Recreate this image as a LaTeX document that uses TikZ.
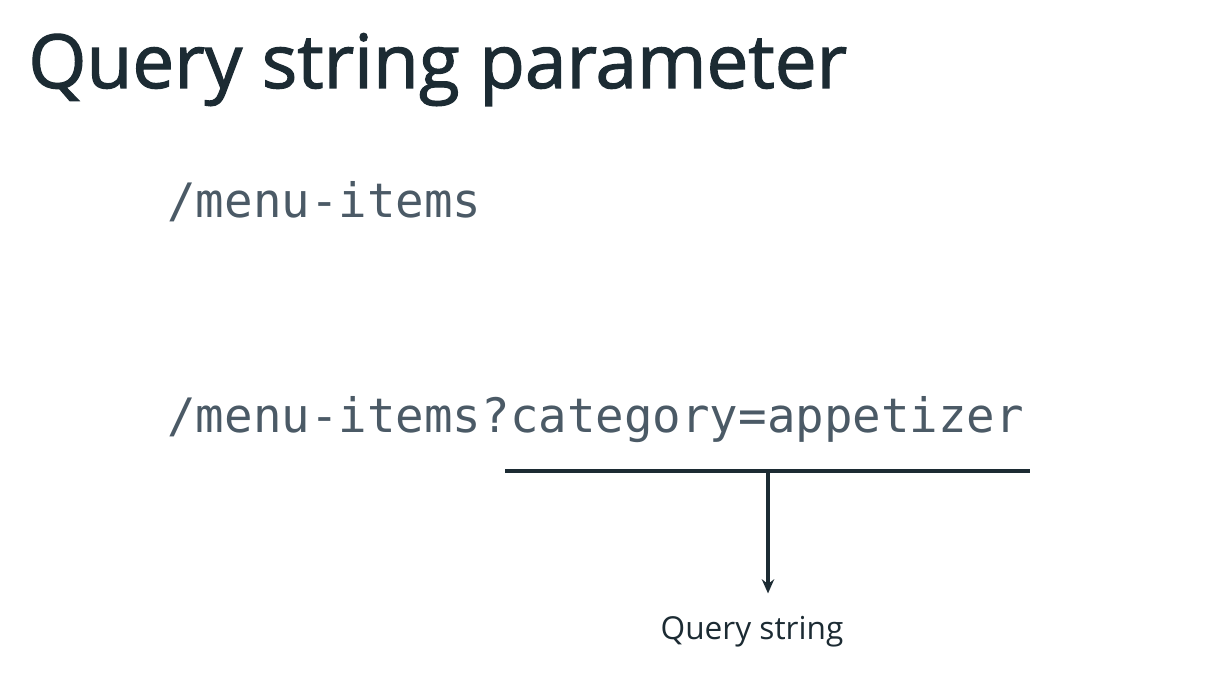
\documentclass[tikz,border=0pt]{standalone}
\usepackage{fontspec}
\setmainfont{Open Sans}
\setmonofont{DejaVu Sans Mono}
\newfontfamily\titlefont{Open Sans}[FakeBold=1.6]
\usepackage{xcolor}
\usepackage{tikz}
\usetikzlibrary{calc,arrows.meta,positioning}

\definecolor{titleink}{HTML}{1C2B33}
\definecolor{codeink}{HTML}{4B5A66}

\begin{document}
\begin{tikzpicture}[
        x=0.02cm, y=-0.02cm,
        title/.style = {anchor=base west, inner sep=0, text=titleink, font=\titlefont\fontsize{42.5}{50}\selectfont},
        code/.style = {anchor=base west, inner sep=0, text=codeink, font=\ttfamily\fontsize{27}{32}\selectfont},
        label/.style = {inner sep=0, text=titleink, font=\fontsize{18}{22}\selectfont},
        bracket/.style = {draw=titleink, line width=2.3pt},
        arrow/.style = {-{Stealth[length=8pt,width=7pt]}, draw=titleink, line width=2pt}
    ]
    \useasboundingbox[fill=white] (0,0) rectangle (1232,696);

    % Slide title
    \node[title] (title) at (28,88) {Query string parameter};

    % The two paths
    \node[code] (plain) at (167,217) {/menu-items};
    \node[code] (query) at (167,432) {/menu-items?category=appetizer};

    % Bracket under the query part
    \coordinate (qsleft) at (505,471);
    \coordinate (qsright) at (1030,471);
    \coordinate (qsmid) at (768,471);
    \draw[bracket] (qsleft) -- (qsright);

    % Arrow to the label
    \node[label] (qslabel) at (752,632) {Query string};
    \draw[arrow, shorten >=13pt] (qsmid) -- (qsmid |- qslabel.north);

\end{tikzpicture}
\end{document}
